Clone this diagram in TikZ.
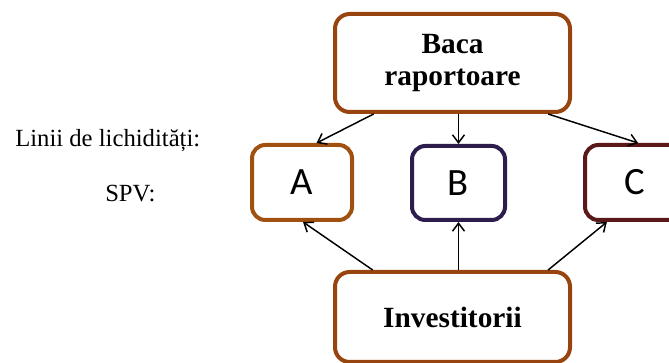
\documentclass[tikz,border=0pt]{standalone}
\usepackage{fontspec}
\setmainfont{Liberation Serif}
\newfontfamily\abcfont{Carlito}
\usetikzlibrary{arrows.meta,calc}
\definecolor{brownA}{HTML}{A0500F}
\definecolor{brownT}{HTML}{98440E}
\definecolor{purpB}{HTML}{2C1D4C}
\definecolor{maroonC}{HTML}{5A1818}
\tikzset{
  bigbox/.style={draw=brownT, line width=3pt, rounded corners=11pt, fill=white,
    inner sep=0pt, align=center, font=\fontsize{22}{24}\selectfont\bfseries},
  smallbox/.style={draw, line width=3pt, rounded corners=10pt, fill=white,
    inner sep=0pt, font=\abcfont\fontsize{29}{30}\selectfont},
  lbl/.style={inner sep=0pt, font=\fontsize{18.5}{20}\selectfont},
  conn/.style={line width=1.1pt, -{Straight Barb[length=6pt,width=9pt,line width=1.1pt]}}
}
\begin{document}
\begin{tikzpicture}[x=0.75pt,y=-0.75pt]
\useasboundingbox (0,0) rectangle (669,363);
\clip (0,0) rectangle (669,363);
\node[bigbox, minimum width=176.25pt, minimum height=73.5pt] (top) at (452.5,63) {Baca\\raportoare};
\node[bigbox, minimum width=176.25pt, minimum height=67.5pt] (inv) at (452.5,317) {Investitorii};
\node[smallbox, draw=brownA, minimum width=75pt, minimum height=56.25pt] (A) at (302,182.5) {A};
\node[smallbox, draw=purpB, minimum width=69.75pt, minimum height=55.5pt] (B) at (458.5,183) {B};
\node[smallbox, draw=maroonC, minimum width=75pt, minimum height=56.25pt] (C) at (635,182.5) {C};
\node[lbl, anchor=base west] (lin) at (15,147) {Linii de lichidități:};
\node[lbl, anchor=base west] (spv) at (105,202) {SPV:};
\draw[conn] ($(top.south west)!0.17!(top.south east)$) -- ($(A.north west)!0.64!(A.north east)$);
\draw[conn] (top.south -| B.north) -- (B.north);
\draw[conn] ($(top.south west)!0.9!(top.south east)$) -- ($(C.north west)!0.53!(C.north east)$);
\draw[conn] ($(inv.north west)!0.166!(inv.north east)$) -- ($(A.south west)!0.51!(A.south east)$);
\draw[conn] (inv.north -| B.south) -- (B.south);
\draw[conn] ($(inv.north west)!0.9!(inv.north east)$) -- ($(C.south west)!0.23!(C.south east)$);
\end{tikzpicture}
\end{document}
